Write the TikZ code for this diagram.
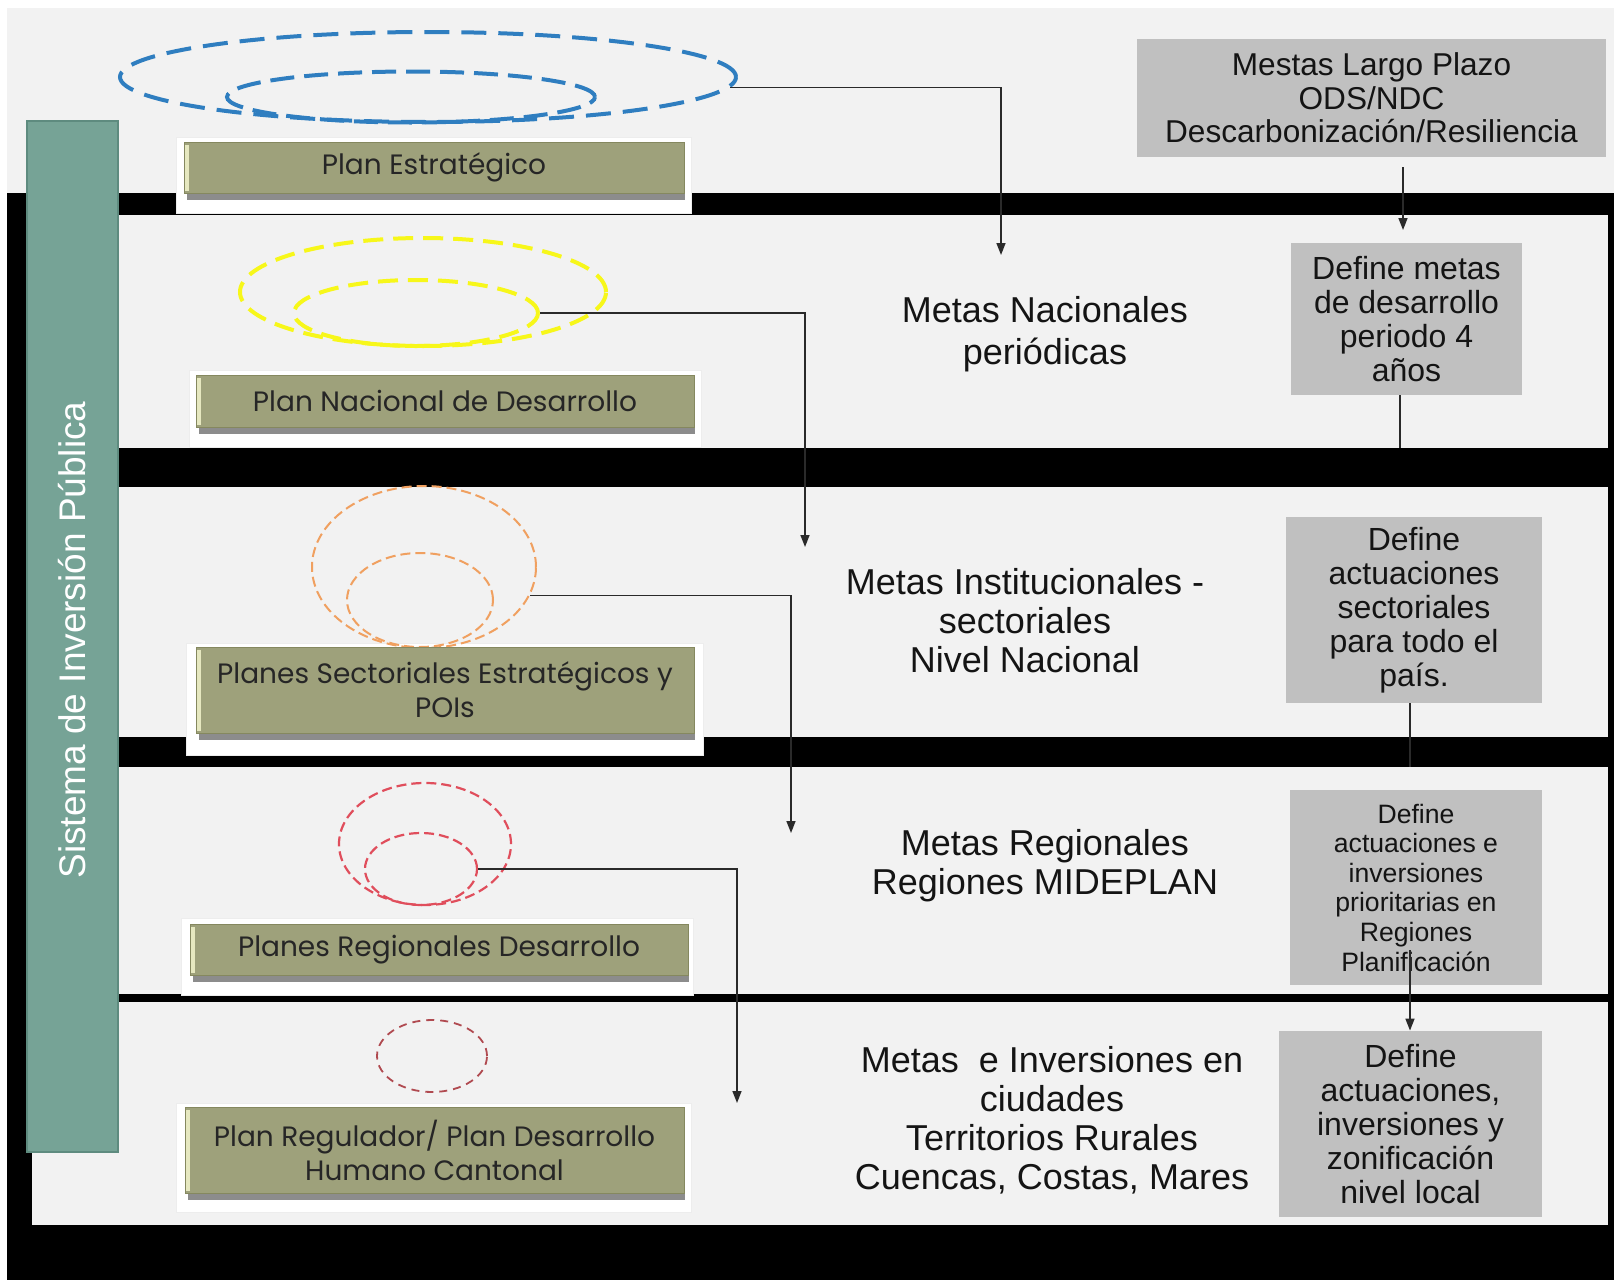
\documentclass[tikz,border=0pt]{standalone}
\usepackage{fontspec}
\setmainfont{Liberation Sans}
\newfontfamily\gothic{Poppins}
\usetikzlibrary{shapes.geometric,arrows.meta}
\definecolor{panel}{HTML}{F2F2F2}
\definecolor{tealbar}{HTML}{76A396}
\definecolor{tealedge}{HTML}{5E8B7F}
\definecolor{olive}{HTML}{9EA17B}
\definecolor{oliveedge}{HTML}{85885F}
\definecolor{olivehl}{HTML}{E6E8C0}
\definecolor{grayb}{HTML}{C0C0C0}
\definecolor{ebl}{HTML}{2F7EC0}
\definecolor{eye}{HTML}{F7F71A}
\definecolor{eor}{HTML}{F0A060}
\definecolor{ere}{HTML}{E04E5C}
\definecolor{edr}{HTML}{B04A50}
\definecolor{txt}{HTML}{141414}
\definecolor{conncol}{HTML}{2A2A2A}
\begin{document}
\begin{tikzpicture}[x=0.5pt,y=-0.5pt,
  graybox/.style={fill=grayb, inner sep=0pt, align=center, text=txt, font=\fontsize{16}{17}\selectfont},
  olivebox/.style={fill=olive, draw=oliveedge, line width=0.5pt, inner sep=0pt, align=center, text=black!85, font=\gothic\fontsize{14}{17}\selectfont},
  metas/.style={align=center, text=txt, inner sep=0pt, font=\fontsize{18}{19.5}\selectfont},
  ell/.style={ellipse, inner sep=0pt},
  backing/.style={fill=white, draw=black!7, line width=0.5pt},
  connline/.style={draw=conncol, line width=0.8pt},
  arr/.style={connline, -{Triangle[length=6pt,width=4.5pt]}}
]
\useasboundingbox (0,0) rectangle (1614,1280);
% background
\fill[white] (0,0) rectangle (1614,1280);
\fill[panel] (7,8) rectangle (1614,193);
\fill[black] (7,193) rectangle (1614,1280);
\fill[panel] (118,215) rectangle (1608,448);
\fill[panel] (118,487) rectangle (1608,737);
\fill[panel] (118,767) rectangle (1608,994);
\fill[panel] (32,1002) rectangle (1608,1225);
% backings
\filldraw[backing] (176,137) rectangle (691,213);
\filldraw[backing] (189,370) rectangle (701,447);
\filldraw[backing] (186,643) rectangle (703,755);
\filldraw[backing] (181,918) rectangle (693,995);
\filldraw[backing] (176,1103) rectangle (691,1212);
% teal bar
\filldraw[fill=tealbar, draw=tealedge, line width=0.6pt] (27,121) rectangle (118,1152);
\node[rotate=90, text=white, inner sep=0pt, font=\fontsize{18.5}{20}\selectfont] (sip) at (72,640) {Sistema de Inversión Pública};
% ellipses
\node[ell, draw=ebl, line width=2pt, dash pattern=on 12.5pt off 6pt, minimum width=308pt, minimum height=45pt] (bout) at (428,77) {};
\node[ell, draw=ebl, line width=2pt, dash pattern=on 12pt off 5pt, minimum width=184pt, minimum height=25.5pt] (bin) at (411,97) {};
\node[ell, draw=eye, line width=2pt, dash pattern=on 10pt off 5pt, minimum width=183pt, minimum height=54pt] (yout) at (423,292) {};
\node[ell, draw=eye, line width=2pt, dash pattern=on 10pt off 5pt, minimum width=122pt, minimum height=33pt] (yin) at (416,313) {};
\node[ell, draw=eor, line width=1pt, dash pattern=on 5pt off 2.5pt, minimum width=112pt, minimum height=81pt] (oout) at (424,567) {};
\node[ell, draw=eor, line width=1pt, dash pattern=on 5pt off 2.5pt, minimum width=73pt, minimum height=47pt] (oin) at (420,600) {};
\node[ell, draw=ere, line width=1.1pt, dash pattern=on 5pt off 2.5pt, minimum width=86pt, minimum height=61pt] (rout) at (425,844) {};
\node[ell, draw=ere, line width=1.1pt, dash pattern=on 5pt off 2.5pt, minimum width=56pt, minimum height=36pt] (rin) at (421,869) {};
\node[ell, draw=edr, line width=0.9pt, dash pattern=on 4pt off 3pt, minimum width=55pt, minimum height=36pt] (dr) at (432,1056) {};
% olive boxes
\node[olivebox, minimum width=250pt, minimum height=25.5pt] (ob1) at (434,167.5) {Plan Estratégico};
\node[olivebox, minimum width=249pt, minimum height=26pt] (ob2) at (445,401) {Plan Nacional de Desarrollo};
\node[olivebox, minimum width=249pt, minimum height=43pt] (ob3) at (445,690) {Planes Sectoriales Estratégicos y\\POIs};
\node[olivebox, minimum width=249pt, minimum height=25.5pt] (ob4) at (439,949.5) {Planes Regionales Desarrollo};
\node[olivebox, minimum width=249.5pt, minimum height=43pt] (ob5) at (434.5,1150) {Plan Regulador/ Plan Desarrollo\\Humano Cantonal};
\foreach \bx in {ob1,ob2,ob3,ob4,ob5}{
  \fill[black!75, opacity=0.6] ([xshift=1.5pt]\bx.south west) rectangle ([yshift=-3pt]\bx.south east);
  \fill[olivehl] ([xshift=0.5pt,yshift=-1.5pt]\bx.north west) rectangle ([xshift=2.5pt,yshift=1.5pt]\bx.south west);
}
% gray boxes
\node[graybox, minimum width=234.5pt, minimum height=59pt, font=\fontsize{15.8}{16.8}\selectfont] (g0) at (1371.5,98) {Mestas Largo Plazo\\ODS/NDC\\Descarbonización/Resiliencia};
\node[graybox, minimum width=115.5pt, minimum height=76pt] (g1) at (1406.5,319) {Define metas\\de desarrollo\\periodo 4\\años};
\node[graybox, minimum width=128pt, minimum height=93pt] (g2) at (1414,610) {Define\\actuaciones\\sectoriales\\para todo el\\país.};
\node[graybox, minimum width=126pt, minimum height=97.5pt, font=\fontsize{13.3}{14.8}\selectfont] (g3) at (1416,887.5) {Define\\actuaciones e\\inversiones\\prioritarias en\\Regiones\\Planificación};
\node[graybox, minimum width=131.5pt, minimum height=93pt] (g4) at (1410.5,1124) {Define\\actuaciones,\\inversiones y\\zonificación\\nivel local};
% metas texts
\node[metas, font=\fontsize{18}{21}\selectfont] (t1) at (1045,334) {Metas Nacionales\\periódicas};
\node[metas] (t2) at (1025,621) {Metas Institucionales -\\sectoriales\\Nivel Nacional};
\node[metas] (t3) at (1045,866) {Metas Regionales\\Regiones MIDEPLAN};
\node[metas] (t4) at (1052,1120) {Metas\ \ e Inversiones en\\ciudades\\Territorios Rurales\\Cuencas, Costas, Mares};
% connector end points
\coordinate (m1) at (1001,255);
\coordinate (m2) at (805,547);
\coordinate (m3) at (791,833);
\coordinate (m4) at (737,1103);
\coordinate (a0) at (1403,230);
\coordinate (c1) at (1400,448);
\coordinate (c2) at (1410,767);
\coordinate (s3) at (1410,950);
% connectors
\draw[arr] (bout.-2) -| (m1);
\draw[arr] (yin.east) -| (m2);
\draw[arr] (oout.-15) -| (m3);
\draw[arr] (rin.east) -| (m4);
\draw[arr, shorten <=5pt] (g0.south -| a0) -- (a0);
\draw[connline] (g1.south -| c1) -- (c1);
\draw[connline] (g2.south -| c2) -- (c2);
\draw[arr] (s3) -- (g4.north -| s3);
\end{tikzpicture}
\end{document}
